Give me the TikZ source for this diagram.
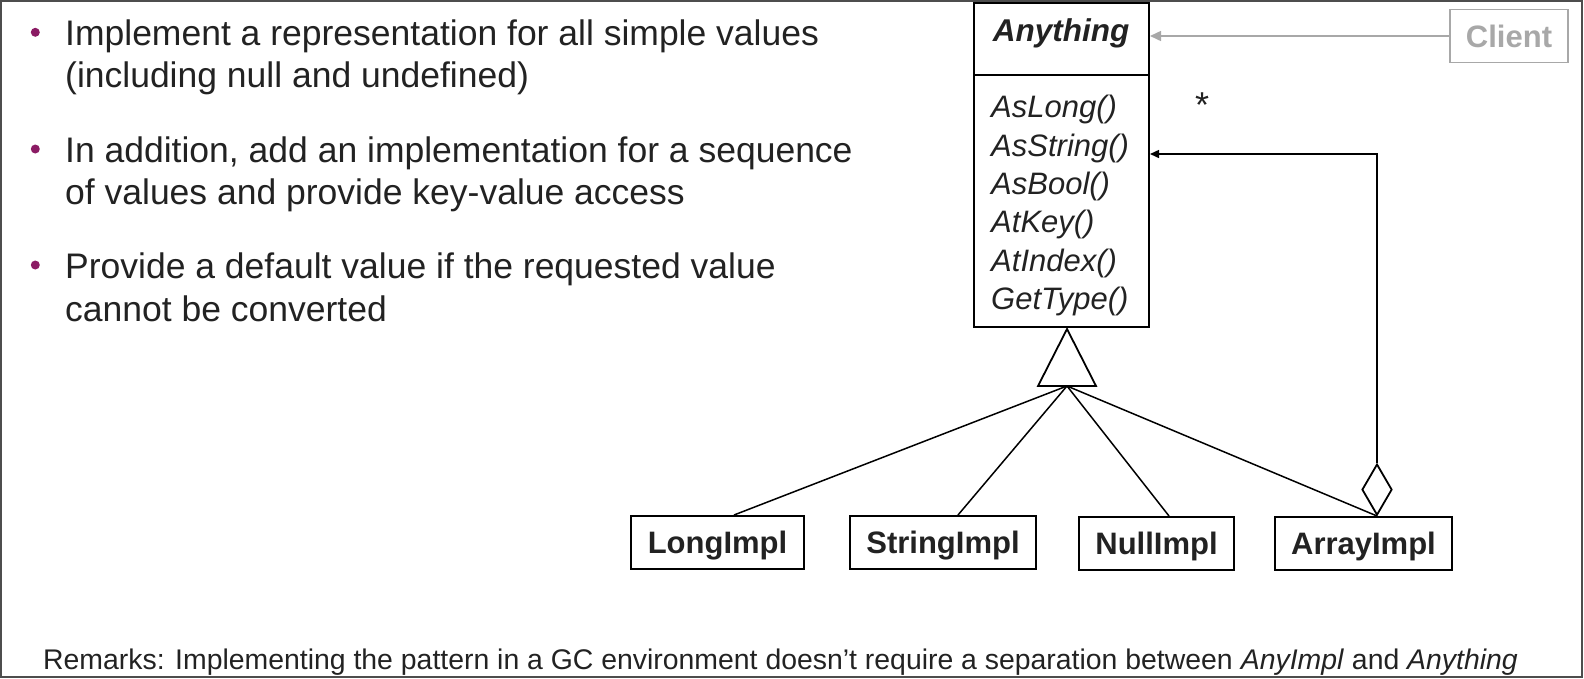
\documentclass[tikz,border=0pt]{standalone}
\usepackage{fontspec}
\setmainfont{Liberation Sans}
\usetikzlibrary{arrows.meta,shapes.geometric}
\definecolor{txt}{HTML}{222222}
\definecolor{bul}{HTML}{8B1B64}
\definecolor{cli}{HTML}{A8A8A8}
\definecolor{frm}{HTML}{4D4D4D}
\begin{document}
\begin{tikzpicture}[x=1pt,y=-1pt,
  bullettext/.style={anchor=base west,inner sep=0,text=txt,font=\fontsize{35.5}{42}\selectfont},
  dot/.style={circle,fill=bul,inner sep=0,minimum size=9pt},
  method/.style={anchor=base west,inner sep=0,text=txt,font=\fontsize{31}{38}\selectfont\itshape},
  implbox/.style={draw=black,line width=2pt,minimum height=53pt,inner sep=0,text=txt,font=\fontsize{31}{36}\selectfont\bfseries,text height=22pt,text depth=0pt},
  conn/.style={line width=1.5pt}
]
\useasboundingbox (0,0) rectangle (1584,678);
\draw[frm,line width=2pt] (1,1) rectangle (1582,677);

% bullets
\node[dot] (d1) at (35.3,32.3) {};
\node[bullettext] (t1a) at (65,45) {Implement a representation for all simple values};
\node[bullettext] (t1b) at (65,87) {(including null and undefined)};
\node[dot] (d2) at (35.3,149) {};
\node[bullettext] (t2a) at (65,162) {In addition, add an implementation for a sequence};
\node[bullettext] (t2b) at (65,204) {of values and provide key-value access};
\node[dot] (d3) at (35.3,265) {};
\node[bullettext] (t3a) at (65,278) {Provide a default value if the requested value};
\node[bullettext] (t3b) at (65,321) {cannot be converted};

% Anything class
\node[draw,line width=2pt,minimum width=175pt,minimum height=324pt,inner sep=0] (any) at (1061.5,165) {};
\coordinate (sepy) at (0,75);
\draw[line width=1.5pt] (any.west |- sepy) -- (any.east |- sepy);
\node[anchor=base,inner sep=0,text=txt,font=\fontsize{31.5}{36}\selectfont\bfseries\itshape] (title) at (1061,41) {Anything};
\node[method] (m1) at (991,117) {AsLong()};
\node[method] (m2) at (991,156) {AsString()};
\node[method] (m3) at (991,194) {AsBool()};
\node[method] (m4) at (991,232) {AtKey()};
\node[method] (m5) at (991,271) {AtIndex()};
\node[method] (m6) at (991,309) {GetType()};

% Client
\node[draw=cli,line width=1.5pt,minimum width=118pt,minimum height=53pt,inner sep=0,text=cli,font=\fontsize{31}{36}\selectfont\bfseries,text height=22pt,text depth=0pt] (client) at (1509,36) {Client};
\draw[cli,conn,-{Triangle[length=11pt,width=10pt]}] (client.west) -- (client.west -| any.east);

\node[anchor=base,inner sep=0,text=txt,font=\fontsize{36}{40}\selectfont] (star) at (1202,117) {*};

% implementations
\node[implbox,minimum width=173pt] (long) at (717.5,542.5) {LongImpl};
\node[implbox,minimum width=186pt] (str) at (943,542.5) {StringImpl};
\node[implbox,minimum width=155pt] (null) at (1156.5,543.5) {NullImpl};
\node[implbox,minimum width=177pt] (arr) at (1363.5,543.5) {ArrayImpl};

% generalization triangle
\coordinate (tribase) at (1067,386);
\draw[line width=1.8pt,line join=miter] (1038,386) -- (1067,329) -- (1096,386) -- cycle;
\draw[conn] (tribase) -- ([xshift=16.5pt]long.north);
\draw[conn] (tribase) -- ([xshift=15pt]str.north);
\draw[conn] (tribase) -- ([xshift=12.5pt]null.north);
\node[diamond,draw,line width=1.8pt,minimum width=30pt,minimum height=51pt,inner sep=0,anchor=south] (dia) at ([xshift=13.5pt]arr.north) {};
\draw[conn] (tribase) -- (dia.south);
\draw[conn,-{Triangle[length=9pt,width=8pt]}] (dia.north) |- ([yshift=11pt]any.east);

% remarks
\node[anchor=base west,inner sep=0,text=txt,font=\fontsize{28.4}{34}\selectfont] (rem) at (43,669) {Remarks: Implementing the pattern in a GC environment doesn’t require a separation between \textit{AnyImpl} and \textit{Anything}};
\end{tikzpicture}
\end{document}
